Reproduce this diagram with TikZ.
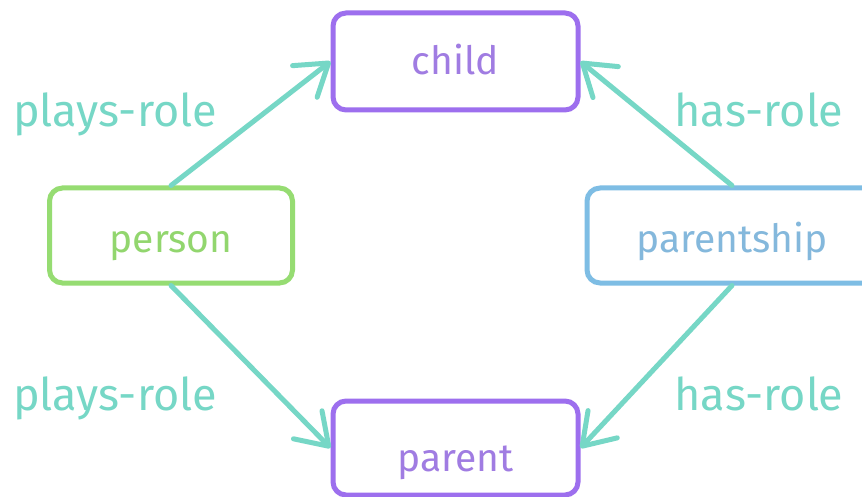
\documentclass[tikz,border=0pt]{standalone}
\usepackage{fontspec}
\setmainfont{Fira Sans}
\usetikzlibrary{arrows.meta}
\definecolor{cpurple}{HTML}{9D6FEE}
\definecolor{tpurple}{HTML}{A07CE2}
\definecolor{cgreen}{HTML}{96DC72}
\definecolor{tgreen}{HTML}{92D66E}
\definecolor{cblue}{HTML}{7EBDE4}
\definecolor{tblue}{HTML}{84B8DC}
\definecolor{cteal}{HTML}{76D7C6}
\tikzset{
  box/.style={draw, line width=5pt, rounded corners=13pt, fill=white,
    font=\fontsize{39}{39}\selectfont, inner sep=0pt, text depth=4pt},
  rel/.style={cteal, line width=5pt, line cap=round,
    -{Straight Barb[length=30pt,width=40pt,line width=5pt,round]}},
  lbl/.style={text=cteal, font=\fontsize{45}{45}\selectfont, inner sep=0pt, anchor=base}
}
\begin{document}
\begin{tikzpicture}[x=1pt,y=-1pt]
\useasboundingbox[fill=white] (0,0) rectangle (862,497);
\node[box, draw=cpurple, text=tpurple, minimum width=245pt, minimum height=97pt, text height=30pt] (child) at (455.5,61.5) {child};
\node[box, draw=cpurple, text=tpurple, minimum width=245pt, minimum height=94pt, text height=50pt] (parent) at (455.5,448) {parent};
\node[box, draw=cgreen, text=tgreen, minimum width=243pt, minimum height=95pt, text height=38pt] (person) at (171,235.5) {person};
\node[box, draw=cblue, text=tblue, minimum width=290pt, minimum height=95pt, text height=38pt] (parentship) at (732,235.5) {parentship};
\draw[rel] (person.north) -- (child.west);
\draw[rel] (person.south) -- (parent.west);
\draw[rel] (parentship.north) -- (child.east);
\draw[rel] (parentship.south) -- (parent.east);
\node[lbl] (l1) at (115,127) {plays-role};
\node[lbl] (l2) at (115,410) {plays-role};
\node[lbl] (l3) at (759,127) {has-role};
\node[lbl] (l4) at (759,410) {has-role};
\end{tikzpicture}
\end{document}
